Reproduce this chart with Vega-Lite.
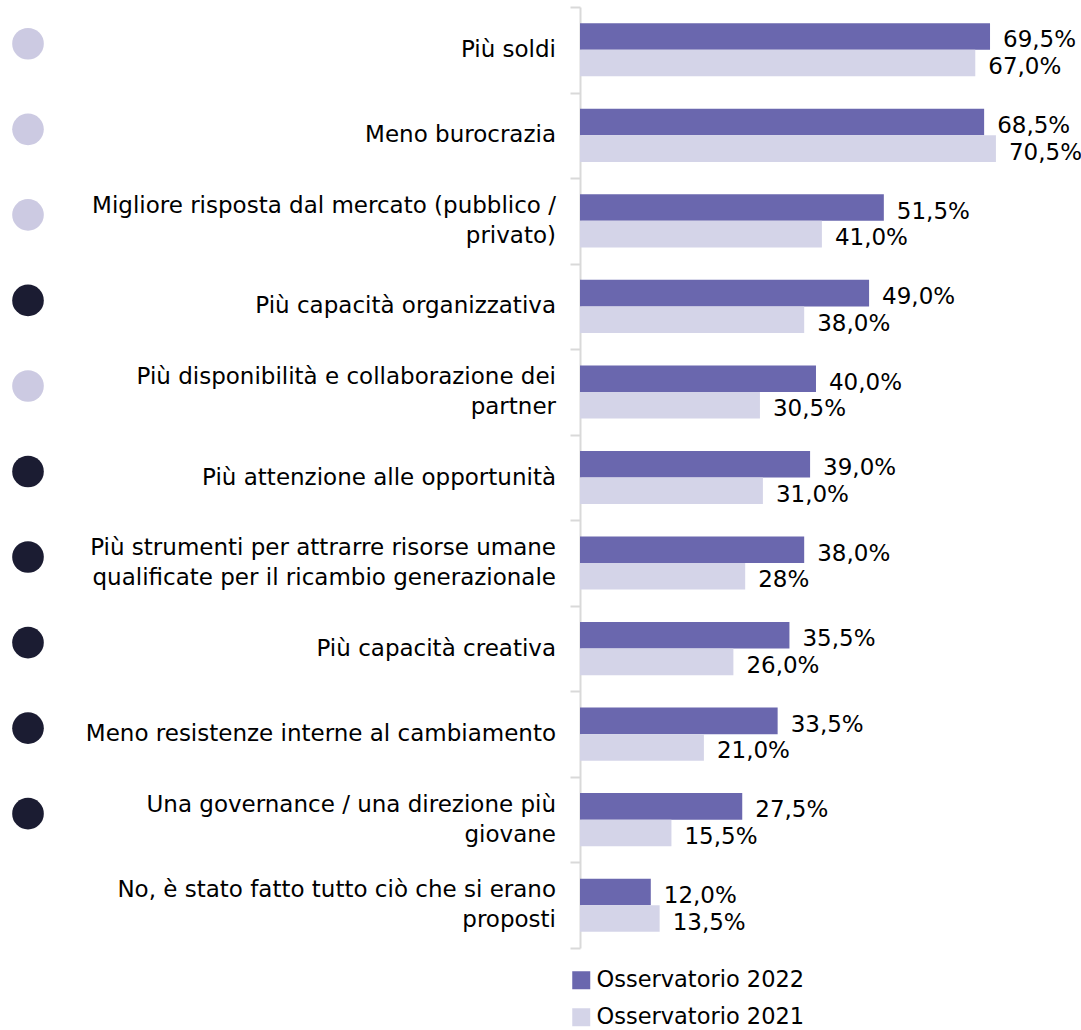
{
  "$schema": "https://vega.github.io/schema/vega-lite/v6.json",
  "padding": {"left": 0, "top": 6, "right": 0, "bottom": 0},
  "config": {"view": {"stroke": null}, "font": "DejaVu Sans", "concat": {"spacing": 13}},
  "datasets": {
    "cats": [
      {"cat": "Più soldi", "group": "light"},
      {"cat": "Meno burocrazia", "group": "light"},
      {"cat": "Migliore risposta dal mercato (pubblico /|privato)", "group": "light"},
      {"cat": "Più capacità organizzativa", "group": "dark"},
      {"cat": "Più disponibilità e collaborazione dei|partner", "group": "light"},
      {"cat": "Più attenzione alle opportunità", "group": "dark"},
      {"cat": "Più strumenti per attrarre risorse umane|qualificate per il ricambio generazionale", "group": "dark"},
      {"cat": "Più capacità creativa", "group": "dark"},
      {"cat": "Meno resistenze interne al cambiamento", "group": "dark"},
      {"cat": "Una governance / una direzione più|giovane", "group": "dark"},
      {"cat": "No, è stato fatto tutto ciò che si erano|proposti", "group": "none"}
    ],
    "bars": [
      {"cat": "Più soldi", "series": "Osservatorio 2022", "value": 69.5, "label": "69,5%"},
      {"cat": "Più soldi", "series": "Osservatorio 2021", "value": 67.0, "label": "67,0%"},
      {"cat": "Meno burocrazia", "series": "Osservatorio 2022", "value": 68.5, "label": "68,5%"},
      {"cat": "Meno burocrazia", "series": "Osservatorio 2021", "value": 70.5, "label": "70,5%"},
      {"cat": "Migliore risposta dal mercato (pubblico /|privato)", "series": "Osservatorio 2022", "value": 51.5, "label": "51,5%"},
      {"cat": "Migliore risposta dal mercato (pubblico /|privato)", "series": "Osservatorio 2021", "value": 41.0, "label": "41,0%"},
      {"cat": "Più capacità organizzativa", "series": "Osservatorio 2022", "value": 49.0, "label": "49,0%"},
      {"cat": "Più capacità organizzativa", "series": "Osservatorio 2021", "value": 38.0, "label": "38,0%"},
      {"cat": "Più disponibilità e collaborazione dei|partner", "series": "Osservatorio 2022", "value": 40.0, "label": "40,0%"},
      {"cat": "Più disponibilità e collaborazione dei|partner", "series": "Osservatorio 2021", "value": 30.5, "label": "30,5%"},
      {"cat": "Più attenzione alle opportunità", "series": "Osservatorio 2022", "value": 39.0, "label": "39,0%"},
      {"cat": "Più attenzione alle opportunità", "series": "Osservatorio 2021", "value": 31.0, "label": "31,0%"},
      {"cat": "Più strumenti per attrarre risorse umane|qualificate per il ricambio generazionale", "series": "Osservatorio 2022", "value": 38.0, "label": "38,0%"},
      {"cat": "Più strumenti per attrarre risorse umane|qualificate per il ricambio generazionale", "series": "Osservatorio 2021", "value": 28.0, "label": "28%"},
      {"cat": "Più capacità creativa", "series": "Osservatorio 2022", "value": 35.5, "label": "35,5%"},
      {"cat": "Più capacità creativa", "series": "Osservatorio 2021", "value": 26.0, "label": "26,0%"},
      {"cat": "Meno resistenze interne al cambiamento", "series": "Osservatorio 2022", "value": 33.5, "label": "33,5%"},
      {"cat": "Meno resistenze interne al cambiamento", "series": "Osservatorio 2021", "value": 21.0, "label": "21,0%"},
      {"cat": "Una governance / una direzione più|giovane", "series": "Osservatorio 2022", "value": 27.5, "label": "27,5%"},
      {"cat": "Una governance / una direzione più|giovane", "series": "Osservatorio 2021", "value": 15.5, "label": "15,5%"},
      {"cat": "No, è stato fatto tutto ciò che si erano|proposti", "series": "Osservatorio 2022", "value": 12.0, "label": "12,0%"},
      {"cat": "No, è stato fatto tutto ciò che si erano|proposti", "series": "Osservatorio 2021", "value": 13.5, "label": "13,5%"}
    ]
  },
  "resolve": {"scale": {"color": "independent", "y": "independent"}, "legend": {"color": "independent"}},
  "hconcat": [
    {
      "width": 56,
      "height": 941,
      "data": {"name": "cats"},
      "transform": [{"filter": "datum.group != 'none'"}],
      "mark": {"type": "point", "filled": true, "size": 1000, "opacity": 1, "strokeWidth": 0, "yOffset": -6},
      "encoding": {
        "y": {
          "field": "cat", "type": "nominal",
          "scale": {"domain": [
            "Più soldi", "Meno burocrazia", "Migliore risposta dal mercato (pubblico /|privato)", "Più capacità organizzativa",
            "Più disponibilità e collaborazione dei|partner", "Più attenzione alle opportunità",
            "Più strumenti per attrarre risorse umane|qualificate per il ricambio generazionale", "Più capacità creativa",
            "Meno resistenze interne al cambiamento", "Una governance / una direzione più|giovane",
            "No, è stato fatto tutto ciò che si erano|proposti"
          ], "paddingInner": 0, "paddingOuter": 0},
          "axis": null
        },
        "color": {
          "field": "group", "type": "nominal",
          "scale": {"domain": ["light", "dark"], "range": ["#CCCAE2", "#1B1C32"]},
          "legend": null
        }
      }
    },
    {
      "width": 487,
      "height": 941,
      "data": {"name": "cats"},
      "mark": {
        "type": "text", "align": "right", "baseline": "middle", "x": "width",
        "lineBreak": "|", "lineHeight": 30, "fontSize": 23, "font": "DejaVu Sans", "color": "#000000",
        "dy": {"expr": "indexof(datum.cat, '|') >= 0 ? -15 : 0"}
      },
      "encoding": {
        "y": {
          "field": "cat", "type": "nominal",
          "scale": {"domain": [
            "Più soldi", "Meno burocrazia", "Migliore risposta dal mercato (pubblico /|privato)", "Più capacità organizzativa",
            "Più disponibilità e collaborazione dei|partner", "Più attenzione alle opportunità",
            "Più strumenti per attrarre risorse umane|qualificate per il ricambio generazionale", "Più capacità creativa",
            "Meno resistenze interne al cambiamento", "Una governance / una direzione più|giovane",
            "No, è stato fatto tutto ciò che si erano|proposti"
          ], "paddingInner": 0, "paddingOuter": 0},
          "axis": null
        },
        "text": {"field": "cat"}
      }
    },
    {
      "width": 480,
      "height": 941,
      "data": {"name": "bars"},
      "encoding": {
        "y": {
          "field": "cat", "type": "nominal",
          "scale": {"domain": [
            "Più soldi", "Meno burocrazia", "Migliore risposta dal mercato (pubblico /|privato)", "Più capacità organizzativa",
            "Più disponibilità e collaborazione dei|partner", "Più attenzione alle opportunità",
            "Più strumenti per attrarre risorse umane|qualificate per il ricambio generazionale", "Più capacità creativa",
            "Meno resistenze interne al cambiamento", "Una governance / una direzione più|giovane",
            "No, è stato fatto tutto ciò che si erano|proposti"
          ], "paddingInner": 0, "paddingOuter": 0},
          "axis": {
            "title": null, "labels": false,
            "domainColor": "#D9D9D9", "domainWidth": 2,
            "tickColor": "#D9D9D9", "tickWidth": 2, "tickSize": 10, "tickBand": "extent"
          }
        },
        "yOffset": {
          "field": "series", "type": "nominal",
          "scale": {"domain": ["Osservatorio 2022", "Osservatorio 2021"], "paddingInner": 0, "paddingOuter": 0.61}
        },
        "x": {
          "field": "value", "type": "quantitative",
          "scale": {"domain": [0, 81.36], "nice": false},
          "axis": null
        }
      },
      "layer": [
        {
          "mark": {"type": "bar"},
          "encoding": {
            "color": {
              "field": "series", "type": "nominal",
              "scale": {"domain": ["Osservatorio 2022", "Osservatorio 2021"], "range": ["#6A67AE", "#D4D4E8"]},
              "legend": {
                "title": null, "orient": "none", "legendX": -10, "legendY": 962,
                "symbolType": "square", "symbolSize": 324, "symbolStrokeWidth": 0,
                "labelFontSize": 22.5, "labelFont": "DejaVu Sans", "labelColor": "#000000",
                "labelOffset": 4, "rowPadding": 14, "padding": 0, "labelLimit": 400
              }
            }
          }
        },
        {
          "mark": {"type": "text", "align": "left", "baseline": "middle", "dx": 13, "dy": 4, "fontSize": 23, "font": "DejaVu Sans", "color": "#000000"},
          "encoding": {"text": {"field": "label"}}
        }
      ]
    }
  ]
}
